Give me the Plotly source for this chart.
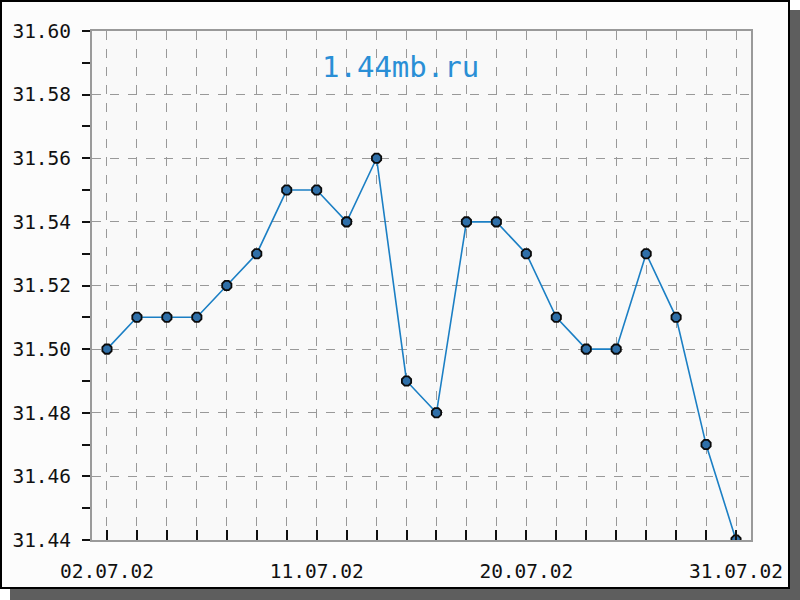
import plotly.graph_objects as go

dates = ["02.07.02", "03.07.02", "04.07.02", "05.07.02", "06.07.02", "09.07.02",
         "10.07.02", "11.07.02", "12.07.02", "13.07.02", "16.07.02", "17.07.02",
         "18.07.02", "19.07.02", "20.07.02", "23.07.02", "24.07.02", "25.07.02",
         "26.07.02", "27.07.02", "30.07.02", "31.07.02"]
rates = [31.50, 31.51, 31.51, 31.51, 31.52, 31.53, 31.55, 31.55, 31.54, 31.56, 31.49,
         31.48, 31.54, 31.54, 31.53, 31.51, 31.50, 31.50, 31.53, 31.51, 31.47, 31.44]
labeled_dates = ["02.07.02", "11.07.02", "20.07.02", "31.07.02"]
watermark = "1.44mb.ru"

idx = list(range(len(dates)))
ticktext = [d if d in labeled_dates else "" for d in dates]

W, H = 800, 600
L, R, T, B = 92, 751, 31, 540

def px(x):
    return (x - L) / (R - L)

def py(y):
    return (B - y) / (B - T)

FONT = "DejaVu Sans Mono"

fig = go.Figure()
fig.add_trace(go.Scatter(
    x=idx, y=rates, mode="lines+markers",
    line=dict(color="#1b7fc4", width=1.6),
    marker=dict(symbol="octagon", size=10, color="#2f6fa8",
                line=dict(color="#0a0a0a", width=1.8)),
    hoverinfo="x+y", showlegend=False,
))

shapes = [
    dict(type="rect", xref="paper", yref="paper", x0=px(10), x1=px(800), y0=py(600), y1=py(10),
         fillcolor="#5e5e5e", line=dict(width=0), layer="below"),
    dict(type="rect", xref="paper", yref="paper", x0=px(1), x1=px(789), y0=py(588), y1=py(1),
         fillcolor="#fcfcfc", line=dict(color="#000000", width=2), layer="below"),
    dict(type="rect", xref="paper", yref="paper", x0=0, x1=1, y0=0, y1=1,
         fillcolor="#f9f9f9", line=dict(width=0), layer="below"),
]

fig.update_layout(
    width=W, height=H,
    margin=dict(l=L, r=W - R, t=T, b=H - B),
    paper_bgcolor="#ffffff",
    plot_bgcolor="rgba(0,0,0,0)",
    shapes=shapes,
    font=dict(family=FONT, size=19.5, color="#111111"),
    annotations=[dict(text=watermark, xref="paper", yref="paper", x=px(400), y=py(67),
                      xanchor="center", yanchor="middle", showarrow=False,
                      font=dict(family=FONT, size=29, color="#2a8fd6"))],
)

fig.update_xaxes(
    range=[-0.5, len(dates) - 0.5],
    tickmode="array", tickvals=idx, ticktext=ticktext,
    ticks="inside", ticklen=10, tickwidth=2, tickcolor="#111111",
    showgrid=True, gridcolor="#999999", gridwidth=1, griddash="dash",
    showline=True, linecolor="#9a9a9a", linewidth=2, mirror=True,
    zeroline=False, ticklabelstandoff=13,
)
fig.update_yaxes(
    range=[31.44, 31.60],
    tick0=31.44, dtick=0.02, tickformat=".2f",
    ticks="outside", ticklen=8, tickwidth=2, tickcolor="#111111",
    minor=dict(dtick=0.01, ticks="outside", ticklen=8, tickwidth=2, tickcolor="#111111", showgrid=False),
    showgrid=True, gridcolor="#999999", gridwidth=1, griddash="dash",
    showline=True, linecolor="#9a9a9a", linewidth=2, mirror=True,
    zeroline=False, ticklabelstandoff=7,
)

fig.write_html("out.html", config={"displayModeBar": False},
               post_script="document.body.style.margin='0px';")
